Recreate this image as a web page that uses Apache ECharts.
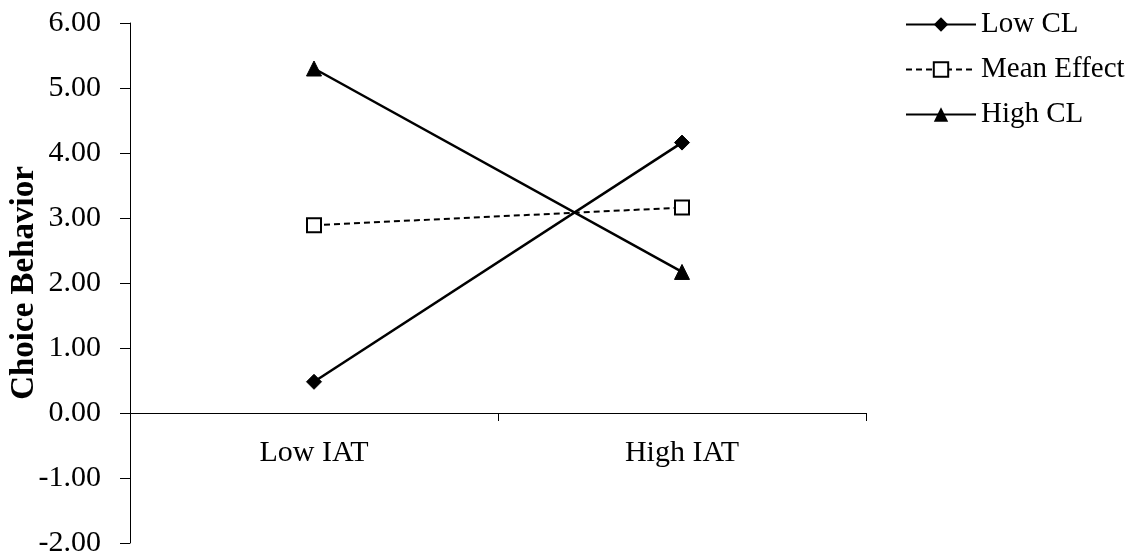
<!DOCTYPE html>
<html><head><meta charset="utf-8">
<script src="https://cdn.jsdelivr.net/npm/echarts@6/dist/echarts.min.js"></script>
<style>html,body{margin:0;padding:0;background:#fff}#c{width:1134px;height:556px}</style>
</head><body><div id="c"></div>
<script>
var categories = ['Low IAT', 'High IAT'];
var lowCL = [0.48, 4.16];
var meanEffect = [2.89, 3.16];
var highCL = [5.30, 2.17];
var seriesNames = ['Low CL', 'Mean Effect', 'High CL'];
var yTitle = 'Choice Behavior';
var yMin = -2, yMax = 6, yStep = 1;

var FONT = '"Liberation Serif", "Times New Roman", serif';
var GRID = {left: 130, right: 268, top: 23, bottom: 13};
var plotH = 556 - GRID.top - GRID.bottom;
// pixel distance from the bottom of the plot up to the value 0 (axis crossing)
var zeroOffset = plotH * (0 - yMin) / (yMax - yMin);

var chart = echarts.init(document.getElementById('c'), null, {renderer: 'canvas'});
chart.setOption({
  animation: false,
  backgroundColor: '#fff',
  grid: {left: GRID.left, right: GRID.right, top: GRID.top, bottom: GRID.bottom,
         containLabel: false, outerBoundsMode: 'none'},
  legend: {
    orient: 'vertical', left: 900, top: 5, itemGap: 16,
    itemWidth: 70, itemHeight: 18,
    data: seriesNames,
    textStyle: {fontFamily: FONT, fontSize: 29, color: '#000'}
  },
  xAxis: {
    type: 'category', data: categories, boundaryGap: true,
    position: 'bottom', offset: -zeroOffset,
    axisLine: {onZero: false, lineStyle: {color: '#000', width: 1}},
    axisTick: {show: true, length: 8, inside: false, lineStyle: {color: '#000'}},
    axisLabel: {fontFamily: FONT, fontSize: 30, color: '#000', margin: 25},
    splitLine: {show: false}
  },
  yAxis: {
    type: 'value', min: yMin, max: yMax, interval: yStep,
    name: yTitle, nameLocation: 'middle', nameGap: 89, nameRotate: 90,
    nameMoveOverlap: false,
    nameTextStyle: {fontFamily: FONT, fontSize: 33, fontWeight: 'bold', color: '#000'},
    axisLine: {show: true, lineStyle: {color: '#000', width: 1}},
    axisTick: {show: true, length: 10, lineStyle: {color: '#000'}},
    axisLabel: {fontFamily: FONT, fontSize: 30, color: '#000', margin: 29,
      formatter: function (v) { return v.toFixed(2); }},
    splitLine: {show: false}
  },
  series: [
    {name: seriesNames[0], type: 'line', data: lowCL, symbol: 'diamond', symbolSize: 15,
     lineStyle: {color: '#000', width: 2.5}, itemStyle: {color: '#000', borderColor: '#000'}},
    {name: seriesNames[1], type: 'line', data: meanEffect, symbol: 'rect', symbolSize: 14,
     lineStyle: {color: '#000', width: 2, type: [6, 4]},
     itemStyle: {color: '#fff', borderColor: '#000', borderWidth: 2}},
    {name: seriesNames[2], type: 'line', data: highCL, symbol: 'triangle', symbolSize: 15,
     lineStyle: {color: '#000', width: 2.5}, itemStyle: {color: '#000', borderColor: '#000'}}
  ]
});
</script></body></html>
